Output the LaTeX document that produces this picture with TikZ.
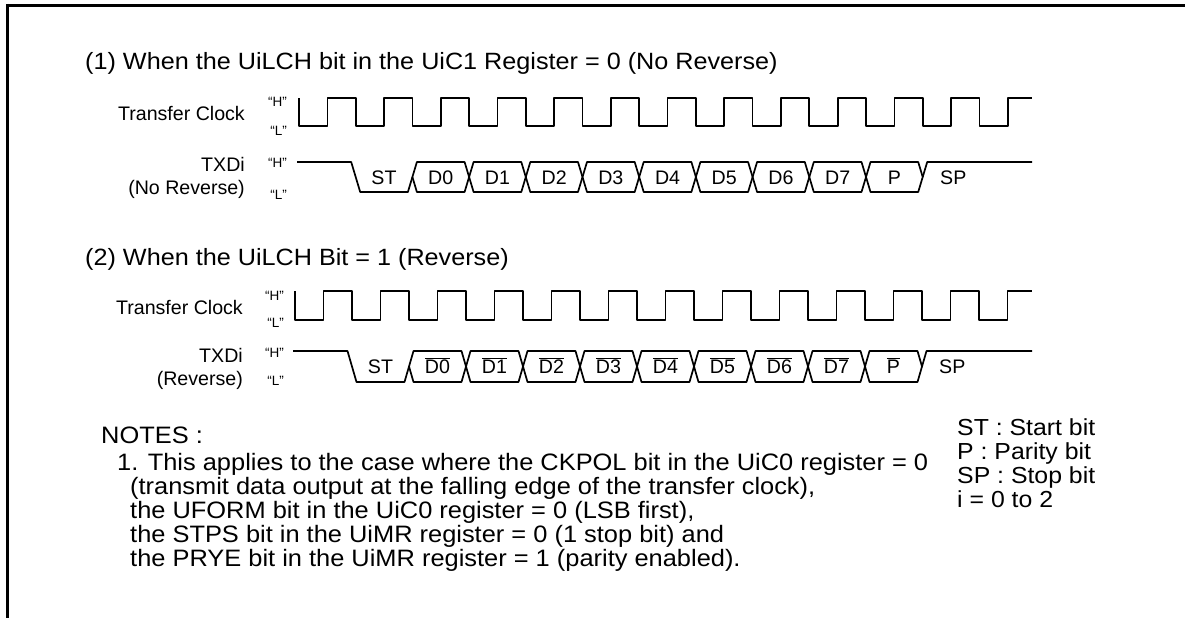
\documentclass[tikz,border=0pt]{standalone}
\usepackage{fontspec}
\setmainfont{Liberation Sans}
\newfontfamily\widefont[FakeStretch=1.07]{Liberation Sans}
\usetikzlibrary{positioning}

\newcommand{\negbit}[1]{$\overline{\mbox{#1}}$}

\begin{document}
\begin{tikzpicture}[
    x=1pt, y=-1pt,
    frame/.style={line width=3pt},
    wave/.style={line width=1.7pt, line join=round},
    heading/.style={anchor=base west, inner sep=0pt, font=\widefont\fontsize{23.55}{26}\selectfont},
    notetext/.style={anchor=base west, inner sep=0pt, font=\widefont\fontsize{23.75}{26}\selectfont},
    legend/.style={anchor=base west, inner sep=0pt, font=\widefont\fontsize{23.2}{26}\selectfont},
    signame/.style={anchor=base east, inner sep=0pt, font=\fontsize{19.6}{22}\selectfont},
    level/.style={anchor=base east, inner sep=0pt, font=\fontsize{13.5}{15}\selectfont},
    bitlabel/.style={anchor=base, inner sep=0pt, font=\fontsize{19.6}{22}\selectfont}
]
\useasboundingbox (0,0) rectangle (1185,618);

% Frame
\draw[frame] (6,5.5) -- (1185,5.5);
\draw[frame] (7.5,4) -- (7.5,618);

% (1) No reverse
\node[heading] (title1) at (85,70) {(1) When the UiLCH bit in the UiC1 Register = 0 (No Reverse)};

\node[signame] (clk1) at (245,120) {Transfer Clock};
\node[level] (clk1H) at (287,106) {``H''};
\node[level] (clk1L) at (287,135) {``L''};
\draw[wave] (299,98) -- (299,126)
    \foreach \k in {1,...,12} { -- ++(28.35,0) -- ++(0,-28) -- ++(28.35,0) -- ++(0,28) }
    -- ++(28.35,0) -- ++(0,-28) -- (1032,98);

\node[signame] (txd1) at (245,171) {TXDi};
\node[signame] (txd1b) at (245,194) {(No Reverse)};
\node[level] (txd1H) at (287,167) {``H''};
\node[level] (txd1L) at (287,199) {``L''};
\draw[wave] (297,162) -- (351.2,162) -- (360.2,192) -- (407.9,192) -- (412.4,177);
\node[bitlabel] (tx-ST) at (384,184) {ST};
\foreach \k/\lbl in {2/D0,3/D1,4/D2,5/D3,6/D4,7/D5,8/D6,9/D7,10/P} {
    \draw[wave] ({299+56.7*\k},177) -- ++(4.5,-15) -- ({299+56.7*(\k+1)-4.5},162)
        -- ++(4.5,15) -- ++(-4.5,15) -- ({299+56.7*\k+4.5},192) -- cycle;
    \node[bitlabel] (tx-\lbl) at ({299+56.7*(\k+0.5)},184) {\lbl};
}
\draw[wave] (922.7,177) -- (927.2,162) -- (1032,162);
\node[bitlabel, anchor=base west] (tx-SP) at (940,184) {SP};

% (2) Reverse
\node[heading] (title2) at (85,265) {(2) When the UiLCH Bit = 1 (Reverse)};

\node[signame] (clk2) at (243,314) {Transfer Clock};
\node[level] (clk2H) at (284,300) {``H''};
\node[level] (clk2L) at (284,327) {``L''};
\draw[wave] (295,291) -- (295,320)
    \foreach \k in {1,...,12} { -- ++(28.5,0) -- ++(0,-29) -- ++(28.5,0) -- ++(0,29) }
    -- ++(28.5,0) -- ++(0,-29) -- (1032,291);

\node[signame] (txd2) at (243,362) {TXDi};
\node[signame] (txd2b) at (243,385) {(Reverse)};
\node[level] (txd2H) at (284,357) {``H''};
\node[level] (txd2L) at (284,385) {``L''};
\draw[wave] (293,351) -- (347.5,351) -- (356.5,382) -- (404.5,382) -- (409,366.5);
\node[bitlabel] (rx-ST) at (380.5,373.5) {ST};
\foreach \k/\lbl in {2/D0,3/D1,4/D2,5/D3,6/D4,7/D5,8/D6,9/D7,10/P} {
    \draw[wave] ({295+57*\k},366.5) -- ++(4.5,-15.5) -- ({295+57*(\k+1)-4.5},351)
        -- ++(4.5,15.5) -- ++(-4.5,15.5) -- ({295+57*\k+4.5},382) -- cycle;
    \node[bitlabel] (rx-\lbl) at ({295+57*(\k+0.5)},373.5) {\negbit{\lbl}};
}
\draw[wave] (922,366.5) -- (926.5,351) -- (1032,351);
\node[bitlabel, anchor=base west] (rx-SP) at (939,373.5) {SP};

% Notes
\node[notetext] (notes) at (101,443) {NOTES :};
\node[notetext] (note1) at (117,470) {1. This applies to the case where the CKPOL bit in the UiC0 register = 0};
\node[notetext] (note2) at (130,494) {(transmit data output at the falling edge of the transfer clock),};
\node[notetext] (note3) at (130,518) {the UFORM bit in the UiC0 register = 0 (LSB first),};
\node[notetext] (note4) at (130,542) {the STPS bit in the UiMR register = 0 (1 stop bit) and};
\node[notetext] (note5) at (130,566) {the PRYE bit in the UiMR register = 1 (parity enabled).};

% Legend
\node[legend] (leg1) at (957,435.5) {ST : Start bit};
\node[legend] (leg2) at (957,459.5) {P : Parity bit};
\node[legend] (leg3) at (957,483.5) {SP : Stop bit};
\node[legend] (leg4) at (957,507.5) {i = 0 to 2};

\end{tikzpicture}
\end{document}
